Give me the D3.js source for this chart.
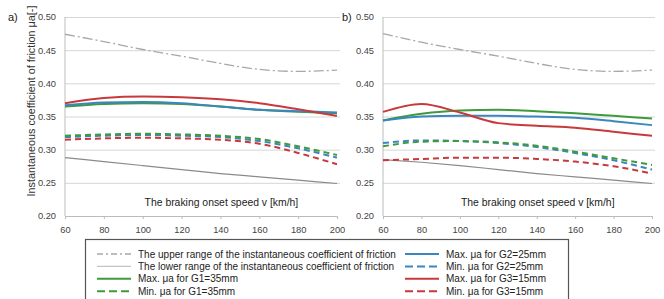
<!DOCTYPE html>
<html>
<head>
<meta charset="utf-8">
<script src="https://cdn.jsdelivr.net/npm/d3@7"></script>
<style>
  body { margin: 0; background: #fff; }
  svg { font-family: "Liberation Sans", Arial, sans-serif; }
  .axis path, .axis line { stroke: #bcbcbc; }
  .axis text { fill: #444; font-size: 9.3px; }
  .grid line { stroke: #d6d6d6; }
  .grid path { display: none; }
</style>
</head>
<body>
<svg width="664" height="299"></svg>
<script>
// speeds [km/h]
const speeds = [60, 80, 100, 120, 140, 160, 180, 200];
const yTicks = [0.20, 0.25, 0.30, 0.35, 0.40, 0.45, 0.50];

// panel a)
const upperA = [0.474, 0.463, 0.451, 0.441, 0.430, 0.421, 0.418, 0.420];
const lowerA = [0.288, 0.282, 0.276, 0.270, 0.264, 0.259, 0.254, 0.249];
const maxG1a = [0.365, 0.369, 0.370, 0.369, 0.365, 0.360, 0.357, 0.355];
const maxG2a = [0.367, 0.371, 0.372, 0.370, 0.365, 0.360, 0.358, 0.356];
const maxG3a = [0.370, 0.378, 0.380, 0.379, 0.376, 0.370, 0.361, 0.351];
const minG1a = [0.321, 0.323, 0.324, 0.323, 0.321, 0.316, 0.305, 0.292];
const minG2a = [0.319, 0.321, 0.322, 0.321, 0.319, 0.313, 0.302, 0.288];
const minG3a = [0.315, 0.317, 0.318, 0.317, 0.315, 0.309, 0.295, 0.278];

// panel b)
const upperB = [0.475, 0.462, 0.451, 0.441, 0.430, 0.421, 0.418, 0.420];
const lowerB = [0.285, 0.281, 0.276, 0.270, 0.264, 0.259, 0.254, 0.249];
const maxG1b = [0.344, 0.354, 0.359, 0.360, 0.358, 0.355, 0.351, 0.347];
const maxG2b = [0.344, 0.350, 0.351, 0.351, 0.350, 0.348, 0.343, 0.337];
const maxG3b = [0.357, 0.369, 0.356, 0.340, 0.336, 0.333, 0.327, 0.321];
const minG1b = [0.305, 0.312, 0.313, 0.311, 0.306, 0.297, 0.287, 0.277];
const minG2b = [0.310, 0.314, 0.313, 0.310, 0.304, 0.295, 0.284, 0.270];
const minG3b = [0.284, 0.286, 0.288, 0.288, 0.286, 0.282, 0.275, 0.264];

const C_GREEN = '#3f9a3c', C_BLUE = '#3a86be', C_RED = '#c8393c';
const C_UP = '#a8a8a8', C_LOW = '#8a8a8a';

const svg = d3.select('svg');
const plotTop = 17, plotBottom = 216;

const yScale = d3.scaleLinear().domain([0.20, 0.50]).range([plotBottom, plotTop]);

function panel(x0, x1, label, labelX, s) {
  const xScale = d3.scaleLinear().domain([60, 200]).range([x0, x1]);
  const g = svg.append('g');

  g.append('g')
    .attr('class', 'grid')
    .attr('transform', `translate(${x0},0)`)
    .call(d3.axisLeft(yScale).tickValues(yTicks.slice(1)).tickSize(-(x1 - x0 + 3)).tickFormat(''));

  g.append('g')
    .attr('class', 'axis')
    .attr('transform', `translate(${x0},0)`)
    .call(d3.axisLeft(yScale).tickValues(yTicks).tickSize(0).tickPadding(9).tickFormat(d3.format('.2f')))
    .call(a => a.select('.domain').remove());

  g.append('line')
    .attr('x1', x0).attr('x2', x0)
    .attr('y1', plotTop).attr('y2', plotBottom)
    .attr('stroke', '#bcbcbc');

  g.append('g')
    .attr('class', 'axis')
    .attr('transform', `translate(0,${plotBottom})`)
    .call(d3.axisBottom(xScale).tickValues(speeds).tickSize(3).tickSizeOuter(0).tickPadding(7));

  g.append('text')
    .attr('x', labelX).attr('y', plotTop + 4)
    .attr('font-size', 11).attr('fill', '#222')
    .text(label);

  g.append('text')
    .attr('x', xScale(140) + 1).attr('y', 206)
    .attr('text-anchor', 'middle')
    .attr('font-size', 10.4).attr('fill', '#222')
    .text('The braking onset speed v [km/h]');

  const line = d3.line()
    .x((d, i) => xScale(speeds[i]))
    .y(d => yScale(d))
    .curve(d3.curveMonotoneX);

  s.forEach(ser => {
    g.append('path')
      .datum(ser.v)
      .attr('fill', 'none')
      .attr('stroke', ser.c)
      .attr('stroke-width', ser.w)
      .attr('stroke-dasharray', ser.dash || null)
      .attr('d', line);
  });
}

function series(up, low, g1, g2, g3, m1, m2, m3) {
  return [
    { v: up, c: C_UP, w: 1.3, dash: '10,3,2,3' },
    { v: low, c: C_LOW, w: 1.2 },
    { v: m3, c: C_RED, w: 2, dash: '6,4' },
    { v: m2, c: C_BLUE, w: 2, dash: '6,4' },
    { v: m1, c: C_GREEN, w: 2, dash: '6,4' },
    { v: g1, c: C_GREEN, w: 2 },
    { v: g2, c: C_BLUE, w: 2 },
    { v: g3, c: C_RED, w: 2 }
  ];
}

panel(65, 337, 'a)', 8, series(upperA, lowerA, maxG1a, maxG2a, maxG3a, minG1a, minG2a, minG3a));
panel(383, 652, 'b)', 342, series(upperB, lowerB, maxG1b, maxG2b, maxG3b, minG1b, minG2b, minG3b));

// y axis title
svg.append('text')
  .attr('transform', `translate(35,101) rotate(-90)`)
  .attr('text-anchor', 'middle')
  .attr('font-size', 10.8).attr('fill', '#333')
  .text('Instantaneous coefficient of friction μa[-]');

// legend
const legendItems = [
  { t: 'The upper range of the instantaneous coefficient of friction', c: C_UP, w: 1.3, dash: '6,3,2,3', col: 0 },
  { t: 'The lower range of the instantaneous coefficient of friction', c: '#c4c4c4', w: 1.3, col: 0 },
  { t: 'Max. μa for G1=35mm', c: C_GREEN, w: 2, col: 0 },
  { t: 'Min. μa for G1=35mm', c: C_GREEN, w: 2, dash: '8,4', col: 0 },
  { t: 'Max. μa for G2=25mm', c: C_BLUE, w: 2, col: 1 },
  { t: 'Min. μa for G2=25mm', c: C_BLUE, w: 2, dash: '8,4', col: 1 },
  { t: 'Max. μa for G3=15mm', c: C_RED, w: 2, col: 1 },
  { t: 'Min. μa for G3=15mm', c: C_RED, w: 2, dash: '8,4', col: 1 }
];

const lg = svg.append('g');
lg.append('rect')
  .attr('x', 85.5).attr('y', 239.5)
  .attr('width', 483).attr('height', 70)
  .attr('fill', '#fff').attr('stroke', '#555').attr('stroke-width', 1.2);

const colX = [97, 405];
legendItems.forEach((d, i) => {
  const row = i % 4;
  const y = 254 + row * 12.4;
  const x = colX[d.col];
  lg.append('line')
    .attr('x1', x).attr('x2', x + 34)
    .attr('y1', y).attr('y2', y)
    .attr('stroke', d.c).attr('stroke-width', d.w)
    .attr('stroke-dasharray', d.dash || null);
  lg.append('text')
    .attr('x', x + 41).attr('y', y + 3.5)
    .attr('font-size', 10).attr('fill', '#222')
    .text(d.t);
});
</script>
</body>
</html>
